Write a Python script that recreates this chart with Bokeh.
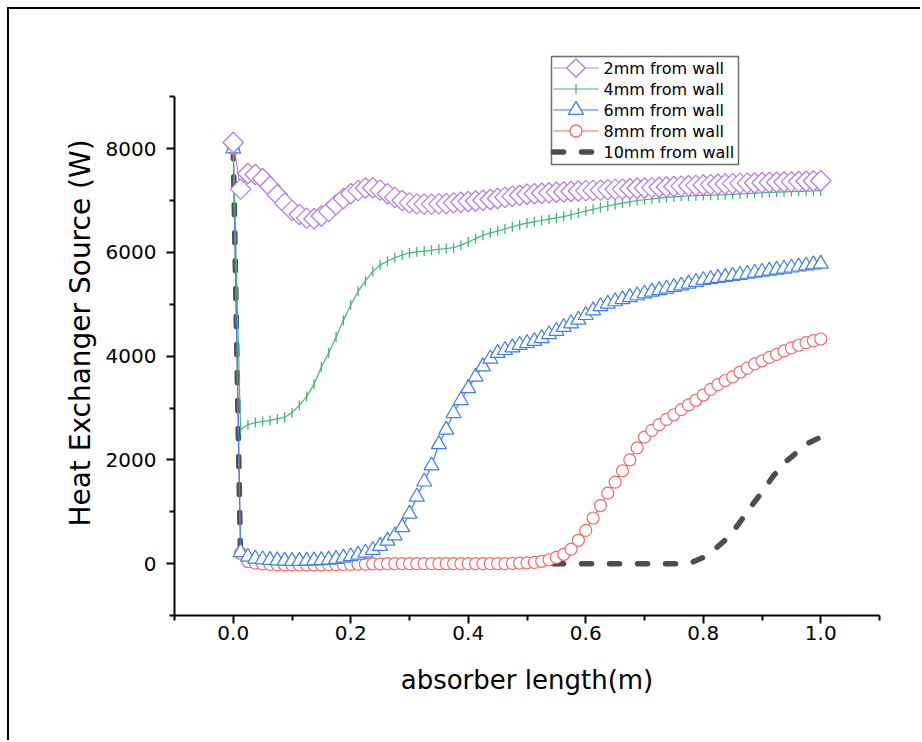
import math
from bokeh.plotting import figure
from bokeh.models import Range1d, FixedTicker, NumeralTickFormatter
from bokeh.core.properties import value
from bokeh.embed import file_html
from bokeh.resources import INLINE

# ---------------- data ----------------
x_pos = [0.0, 0.0125, 0.025, 0.0375, 0.05, 0.0625, 0.075, 0.0875, 0.1, 0.1125,
         0.125, 0.1375, 0.15, 0.1625, 0.175, 0.1875, 0.2, 0.2125, 0.225, 0.2375,
         0.25, 0.2625, 0.275, 0.2875, 0.3, 0.3125, 0.325, 0.3375, 0.35, 0.3625,
         0.375, 0.3875, 0.4, 0.4125, 0.425, 0.4375, 0.45, 0.4625, 0.475, 0.4875,
         0.5, 0.5125, 0.525, 0.5375, 0.55, 0.5625, 0.575, 0.5875, 0.6, 0.6125,
         0.625, 0.6375, 0.65, 0.6625, 0.675, 0.6875, 0.7, 0.7125, 0.725, 0.7375,
         0.75, 0.7625, 0.775, 0.7875, 0.8, 0.8125, 0.825, 0.8375, 0.85, 0.8625,
         0.875, 0.8875, 0.9, 0.9125, 0.925, 0.9375, 0.95, 0.9625, 0.975, 0.9875, 1.0]

y_2mm = [8120, 7220, 7520, 7500, 7420, 7270, 7110, 6950, 6810, 6730,
         6660, 6650, 6700, 6790, 6920, 7040, 7130, 7190, 7240, 7245,
         7200, 7130, 7060, 7000, 6955, 6935, 6930, 6930, 6935, 6940,
         6955, 6965, 6980, 6990, 7005, 7020, 7040, 7060, 7080, 7100,
         7120, 7130, 7140, 7150, 7160, 7165, 7175, 7185, 7190, 7195,
         7200, 7210, 7215, 7220, 7228, 7235, 7240, 7248, 7255, 7262,
         7270, 7278, 7285, 7292, 7300, 7306, 7312, 7318, 7325, 7330,
         7335, 7338, 7342, 7348, 7352, 7356, 7360, 7365, 7370, 7375, 7380]

y_4mm = [8000, 2580, 2680, 2720, 2740, 2760, 2790, 2820, 2910, 3050,
         3220, 3460, 3790, 4060, 4370, 4690, 4990, 5250, 5450, 5630,
         5760, 5830, 5900, 5950, 5990, 6010, 6025, 6040, 6060, 6075,
         6090, 6140, 6200, 6265, 6330, 6375, 6410, 6450, 6495, 6535,
         6565, 6590, 6615, 6640, 6665, 6690, 6725, 6760, 6795, 6830,
         6865, 6895, 6925, 6950, 6975, 7000, 7015, 7030, 7045, 7060,
         7070, 7080, 7087, 7093, 7098, 7103, 7108, 7113, 7120, 7127,
         7134, 7142, 7150, 7156, 7162, 7167, 7172, 7177, 7182, 7186, 7190]

y_6mm = [8000, 220, 130, 95, 80, 70, 60, 55, 50, 50,
         55, 60, 65, 75, 88, 112, 140, 170, 210, 260,
         340, 440, 540, 700, 960, 1290, 1580, 1890, 2300, 2580,
         2900, 3150, 3380, 3600, 3800, 3950, 4060, 4115, 4165, 4215,
         4250, 4290, 4345, 4420, 4485, 4560, 4630, 4700, 4790, 4880,
         4960, 5010, 5055, 5095, 5135, 5170, 5205, 5240, 5270, 5300,
         5330, 5360, 5395, 5430, 5465, 5485, 5505, 5525, 5545, 5565,
         5585, 5605, 5625, 5645, 5665, 5685, 5705, 5725, 5745, 5765, 5780]

y_8mm = [8000, 200, 40, 10, -5, -15, -20, -25, -25, -25,
         -25, -25, -25, -20, -20, -15, -15, -10, -10, -5,
         -5, 0, 0, 0, 0, 0, 0, 0, 0, 0,
         0, 0, 0, 0, 0, 0, 0, 0, 5, 10,
         15, 25, 45, 75, 120, 180, 280, 450, 640, 880,
         1120, 1360, 1570, 1790, 2000, 2230, 2440, 2570, 2680, 2780,
         2870, 2970, 3060, 3150, 3250, 3360, 3450, 3530, 3600, 3690,
         3770, 3850, 3910, 3975, 4035, 4100, 4160, 4210, 4260, 4300, 4330]

x_10mm = [0, 0.0125, 0.1, 0.2, 0.3, 0.4, 0.5, 0.6, 0.7, 0.76, 0.78, 0.80, 0.82, 0.84,
          0.86, 0.88, 0.90, 0.92, 0.94, 0.96, 0.98, 1.00]
y_10mm = [8000, 0, 0, 0, 0, 0, 0, 0, 0, 0, 20, 120, 280, 480,
          760, 1080, 1380, 1700, 1960, 2150, 2330, 2440]

labels = ["2mm from wall", "4mm from wall", "6mm from wall", "8mm from wall", "10mm from wall"]
x_major = [0.0, 0.2, 0.4, 0.6, 0.8, 1.0]
x_minor = [-0.1, 0.1, 0.3, 0.5, 0.7, 0.9, 1.1]
y_major = [0, 2000, 4000, 6000, 8000]
y_minor = [-1000, 1000, 3000, 5000, 7000, 9000]

# ---------------- figure ----------------
FONT = "DejaVu Sans"
C2, C4, C6, C8, C10 = "#b77ee6", "#43b673", "#3d7fe6", "#f26a6a", "#4d4d4d"
X0, X1, Y0, Y1 = -0.1, 1.1, -1000, 9892
FRAME_L, FRAME_B, FRAME_W, FRAME_H = 174, 615, 705, 565   # page pixels

p = figure(width=913, height=733, x_range=Range1d(X0, X1), y_range=Range1d(Y0, Y1),
           output_backend="svg", toolbar_location=None,
           min_border_left=165, min_border_right=43, min_border_top=41, min_border_bottom=127)
p.styles = {"margin-left": "7px", "margin-top": "7px",
            "border-left": "2px solid #000", "border-top": "2px solid #000"}
p.outline_line_color = None
p.xgrid.visible = False
p.ygrid.visible = False
p.background_fill_color = "white"
p.border_fill_color = "white"

# series (drawn from the back to the front)
p.line(x_10mm, y_10mm, line_color=C10, line_width=5.5, line_dash="10 18", line_cap="round")

p.line(x_pos, y_8mm, line_color=C8, line_width=1.2)
p.scatter(x_pos, y_8mm, marker="circle", size=12, line_color=C8, fill_color="white", line_width=1.2)

p.line(x_pos, y_6mm, line_color=C6, line_width=1.2)
p.scatter(x_pos, y_6mm, marker="triangle", size=15, line_color=C6, fill_color="white", line_width=1.2)

p.line(x_pos, y_4mm, line_color=C4, line_width=1.2)
p.scatter(x_pos, y_4mm, marker="dash", size=10, angle=math.pi / 2, line_color=C4, line_width=1.3)

p.line(x_pos, y_2mm, line_color=C2, line_width=1.2)
p.scatter(x_pos, y_2mm, marker="square", size=14.5, angle=math.pi / 4, line_color=C2,
          fill_color="white", line_width=1.3)

# ---------------- legend (laid out in page pixels, converted to data units) ----------------
def dx(px):
    return X0 + (px - FRAME_L) * (X1 - X0) / FRAME_W

def dy(py):
    return Y0 + (FRAME_B - py) * (Y1 - Y0) / FRAME_H

LEG_L, LEG_R, LEG_T, LEG_B = 551, 738, 56, 164
rows = [67.5, 88.5, 109.5, 130.5, 151.5]
g0, g1, t0 = 553, 598, 603
p.quad(left=[dx(LEG_L)], right=[dx(LEG_R)], top=[dy(LEG_T)], bottom=[dy(LEG_B)],
       fill_color="white", line_color="#6e6e6e", line_width=1.5)
styles = [
    dict(color=C2, marker="square", size=13, angle=math.pi / 4, fill="white"),
    dict(color=C4, marker="dash", size=10, angle=math.pi / 2, fill=None),
    dict(color=C6, marker="triangle", size=15, angle=0.0, fill="white"),
    dict(color=C8, marker="circle", size=12, angle=0.0, fill="white"),
]
for i, st in enumerate(styles):
    ry = dy(rows[i])
    p.line([dx(g0), dx(g1)], [ry, ry], line_color=st["color"], line_width=1.2)
    p.scatter([dx((g0 + g1) / 2)], [ry], marker=st["marker"], size=st["size"], angle=st["angle"],
              line_color=st["color"], fill_color=st["fill"], line_width=1.3)
ry = dy(rows[4])
p.line([dx(g0), dx(g1)], [ry, ry], line_color=C10, line_width=5.5, line_dash="10 18", line_cap="round")
p.text(x=[dx(t0)] * 5, y=[dy(r) for r in rows], text=labels, text_font=value(FONT),
       text_font_size="16px", text_color="black", text_baseline="middle", text_align="left")

# ---------------- axes ----------------
for ax in (p.xaxis[0], p.yaxis[0]):
    ax.axis_line_width = 2
    ax.axis_line_color = "black"
    ax.major_tick_line_width = 2
    ax.minor_tick_line_width = 2
    ax.major_tick_out = 8
    ax.major_tick_in = 0
    ax.minor_tick_out = 5
    ax.minor_tick_in = 0
    ax.major_label_text_font = FONT
    ax.major_label_text_font_size = "20px"
    ax.major_label_text_color = "black"
    ax.axis_label_text_font = FONT
    ax.axis_label_text_font_style = "normal"
    ax.axis_label_text_color = "black"

p.xaxis[0].ticker = FixedTicker(ticks=x_major, minor_ticks=x_minor)
p.yaxis[0].ticker = FixedTicker(ticks=y_major, minor_ticks=y_minor)
p.xaxis[0].formatter = NumeralTickFormatter(format="0.0")
p.yaxis[0].formatter = NumeralTickFormatter(format="0")
p.xaxis[0].bounds = (-0.1, 1.1)
p.yaxis[0].bounds = (-1000, 9000)
p.xaxis[0].axis_label = "absorber length(m)"
p.yaxis[0].axis_label = "Heat Exchanger Source (W)"
p.xaxis[0].axis_label_text_font_size = "26px"
p.yaxis[0].axis_label_text_font_size = "28px"
p.xaxis[0].major_label_standoff = 2
p.yaxis[0].major_label_standoff = 10
p.xaxis[0].axis_label_standoff = 22
p.yaxis[0].axis_label_standoff = 6

open("out.html", "w").write(file_html(p, INLINE))
